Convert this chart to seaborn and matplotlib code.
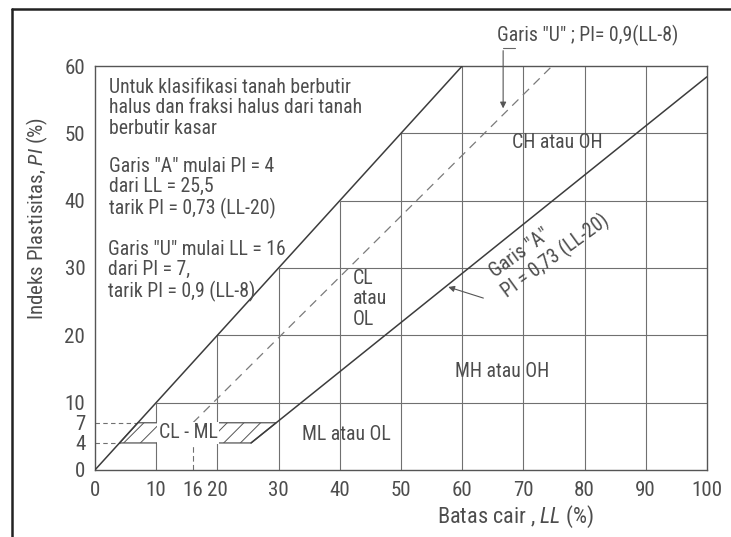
import matplotlib
matplotlib.use("Agg")
import matplotlib.pyplot as plt
from matplotlib import font_manager
from matplotlib.lines import Line2D
import seaborn as sns
import pandas as pd

# chart values (LL = batas cair, PI = indeks plastisitas)
ll_ticks = [0, 10, 16, 20, 30, 40, 50, 60, 70, 80, 90, 100]
pi_ticks = [0, 4, 7, 10, 20, 30, 40, 50, 60]

upper_ll = [0, 60]
upper_pi = [0, 60]
a_line_ll = [25.5, 100]
a_line_pi = [4, 58.4]
u_line_ll = [16, 74.7]
u_line_pi = [7, 60]
clml_ll = [4, 25.5, 29.6, 7]
clml_pi = [4, 4, 7, 7]

grid_levels = [10, 20, 30, 40, 50]
grid_full_ll = [60, 70, 80, 90]

region_labels = ["CH atau OH", "CL\natau\nOL", "MH atau OH", "ML atau OL"]
region_ll = [75.5, 42.2, 66.5, 41.1]
region_pi = [48.7, 25.4, 14.6, 5.2]

note_top = "Untuk klasifikasi tanah berbutir\nhalus dan fraksi halus dari tanah\nberbutir kasar"
note_a = 'Garis "A" mulai PI = 4\ndari LL = 25,5\ntarik PI = 0,73 (LL-20)'
note_u = 'Garis "U" mulai LL = 16\ndari PI = 7,\ntarik PI = 0,9 (LL-8)'

sns.set_style("white")

# narrow sans if there is one, otherwise Liberation Sans a bit smaller
installed = {f.name for f in font_manager.fontManager.ttflist}
narrow = [n for n in ['Liberation Sans Narrow', 'Roboto Condensed', 'Arial Narrow'] if n in installed]
if narrow:
    base = narrow[0]
    k = 1.12
else:
    base = 'Liberation Sans'
    k = 0.93
plt.rcParams['font.family'] = [base, 'DejaVu Sans']
plt.rcParams['mathtext.fontset'] = 'custom'
plt.rcParams['mathtext.rm'] = base
plt.rcParams['mathtext.it'] = base + ':italic'
plt.rcParams['hatch.linewidth'] = 0.7
plt.rcParams['hatch.color'] = '#666666'

fs_note = 12.7 * k
fs_tick = 13.5 * k
fs_xlab = 14.3 * k
fs_ylab = 15.0 if k > 1 else 13.2
lsp = 1.1 if k > 1 else 1.3

txt = '#4d4d4d'
ln = '#3c3c3c'
gr = '#707070'

fig = plt.figure(figsize=(7.31, 5.37), dpi=100)
ax = fig.add_axes([0.130, 0.125, 0.837, 0.752])

# staircase grid below the PI = LL line
for v in grid_levels:
    ax.hlines(v, v, 100, color=gr, lw=0.8, zorder=1)
    ax.vlines(v, 0, v, color=gr, lw=0.8, zorder=1)
for v in grid_full_ll:
    ax.vlines(v, 0, 60, color=gr, lw=0.8, zorder=1)

# CL-ML band
ax.hlines([4, 7], 0, [4, 7], color=gr, lw=0.8, linestyles=(0, (4, 3)), zorder=1)
ax.vlines(16, 0, 7, color=gr, lw=0.8, linestyles=(0, (5, 3)), zorder=1)
ax.fill(clml_ll, clml_pi, facecolor='white', edgecolor='#555555', hatch='//', lw=0.9, zorder=2)

df = pd.DataFrame({'LL': upper_ll + a_line_ll, 'PI': upper_pi + a_line_pi,
                   'garis': ['batas'] * 2 + ['A'] * 2})
sns.lineplot(data=df, x='LL', y='PI', units='garis', estimator=None, color=ln,
             lw=1.1, ax=ax, zorder=3)
sns.lineplot(x=u_line_ll, y=u_line_pi, color='#7a7a7a', lw=0.9, ax=ax,
             linestyle=(0, (7, 5)), zorder=3)

ax.set_xlim(0, 100)
ax.set_ylim(0, 60)
ax.set_xticks(ll_ticks)
ax.set_yticks(pi_ticks)
ax.tick_params(axis='both', colors=gr, labelcolor=txt, labelsize=fs_tick, width=0.8)
ax.tick_params(axis='x', length=3, pad=5)
ax.tick_params(axis='y', length=5, pad=2)
for s in ax.spines.values():
    s.set_color('#555555')
    s.set_linewidth(1.0)

ax.set_xlabel('Batas cair , $\\mathit{LL}$ (%)', fontsize=fs_xlab, color=txt)
ax.xaxis.set_label_coords(0.688, -0.085)
ax.set_ylabel('Indeks Plastisitas, $\\mathit{PI}$ (%)', fontsize=fs_ylab, color=txt)
ax.yaxis.set_label_coords(-0.073, 0.622)

# notes
ax.text(2.3, 53.8, note_top, fontsize=fs_note, color=txt, va='center', linespacing=lsp)
ax.text(2.3, 41.9, note_a, fontsize=fs_note, color=txt, va='center', linespacing=lsp)
ax.text(2.1, 29.6, note_u, fontsize=fs_note, color=txt, va='center', linespacing=lsp)

for lab, x, y in zip(region_labels, region_ll, region_pi):
    ha = 'left' if '\n' in lab else 'center'
    ax.text(x, y, lab, fontsize=fs_note, color=txt, ha=ha, va='center', linespacing=lsp, zorder=4)
ax.text(15.2, 5.5, 'CL - ML', fontsize=fs_note, color=txt, ha='center', va='center', zorder=4,
        bbox=dict(facecolor='white', edgecolor='none', pad=1.0))

# Garis "A" label along the line
ax.text(64.8, 29.2, 'Garis "A"', fontsize=fs_note, color=txt, rotation=36,
        rotation_mode='anchor', ha='left', va='center')
ax.text(66.8, 26.2, 'PI = 0,73 (LL-20)', fontsize=fs_note, color=txt, rotation=36,
        rotation_mode='anchor', ha='left', va='center')
ax.annotate('', xy=(57.3, 27.3), xytext=(63.9, 25.4),
            arrowprops=dict(arrowstyle='-|>', color='#555555', lw=0.8, mutation_scale=9))

# Garis "U" label above the frame
ax.text(65.7, 64.6, 'Garis "U" ; PI= 0,9(LL-8)', fontsize=fs_note, color=txt,
        ha='left', va='center', clip_on=False)
ax.plot([66.7, 68.6], [62.7, 62.7], color='#666666', lw=0.8, clip_on=False)
ax.annotate('', xy=(66.7, 53.3), xytext=(66.7, 62.7), annotation_clip=False,
            arrowprops=dict(arrowstyle='-|>', color='#555555', lw=0.8, mutation_scale=9))

# scanned page frame
fig.add_artist(Line2D([0.0164, 0.0164], [0, 0.983], color='#222222', lw=1.8))
fig.add_artist(Line2D([0.0164, 1], [0.983, 0.983], color='#222222', lw=1.8))

fig.savefig('out.png', dpi=100)
